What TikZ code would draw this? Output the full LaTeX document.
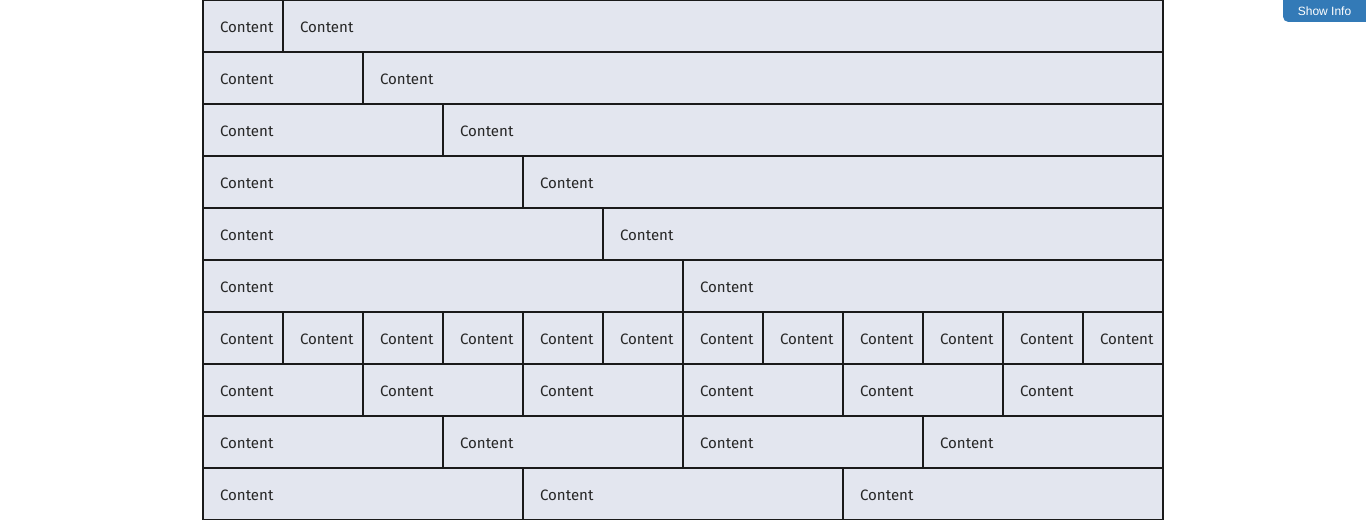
\documentclass[tikz,border=0pt]{standalone}
\usepackage{fontspec}
\setmainfont{Fira Sans}
\newfontfamily\btnfont{Liberation Sans}
\usetikzlibrary{positioning}

\definecolor{cellfill}{HTML}{E3E6EF}
\definecolor{cellline}{HTML}{1A1A1A}
\definecolor{btnblue}{HTML}{337AB7}

\tikzset{
  cell/.style={draw=cellline, fill=cellfill, line width=1.5pt, outer sep=0pt,
    inner xsep=12.75pt, inner ysep=0pt, minimum height=39pt, align=left,
    text height=9.5pt, text depth=0pt,
    font=\fontsize{11.3}{13}\selectfont, text=black!85},
  btnlabel/.style={text=white, font=\btnfont\fontsize{9}{10}\selectfont, inner sep=0pt}
}

\begin{document}
\begin{tikzpicture}[x=0.75pt, y=-0.75pt]
    \useasboundingbox (0,0) rectangle (1366,520);

    % Rows
    \foreach \r/\widths in {0/{1,11}, 1/{2,10}, 2/{3,9}, 3/{4,8}, 4/{5,7},
        5/{6,6}, 6/{1,1,1,1,1,1,1,1,1,1,1,1}, 7/{2,2,2,2,2,2},
        8/{3,3,3,3}, 9/{4,4,4}} {
      \coordinate (c\r-0) at (203, \r*52+26);
      \foreach \w [count=\i] in \widths {
        \pgfmathtruncatemacro\j{\i-1}
        \pgfmathsetmacro\tw{\w*60-25.5}
        \node[cell, text width=\tw pt, minimum width=\w*60pt, right=0pt of c\r-\j] (c\r-\i) {Content};
      }
    }

    % Button
    \fill[btnblue] (1283,0) [rounded corners=4] -- (1283,22) [sharp corners] -- (1366,22) -- (1366,0) -- cycle;
    \node[btnlabel] (info) at (1324.5,11) {Show Info};
\end{tikzpicture}
\end{document}
